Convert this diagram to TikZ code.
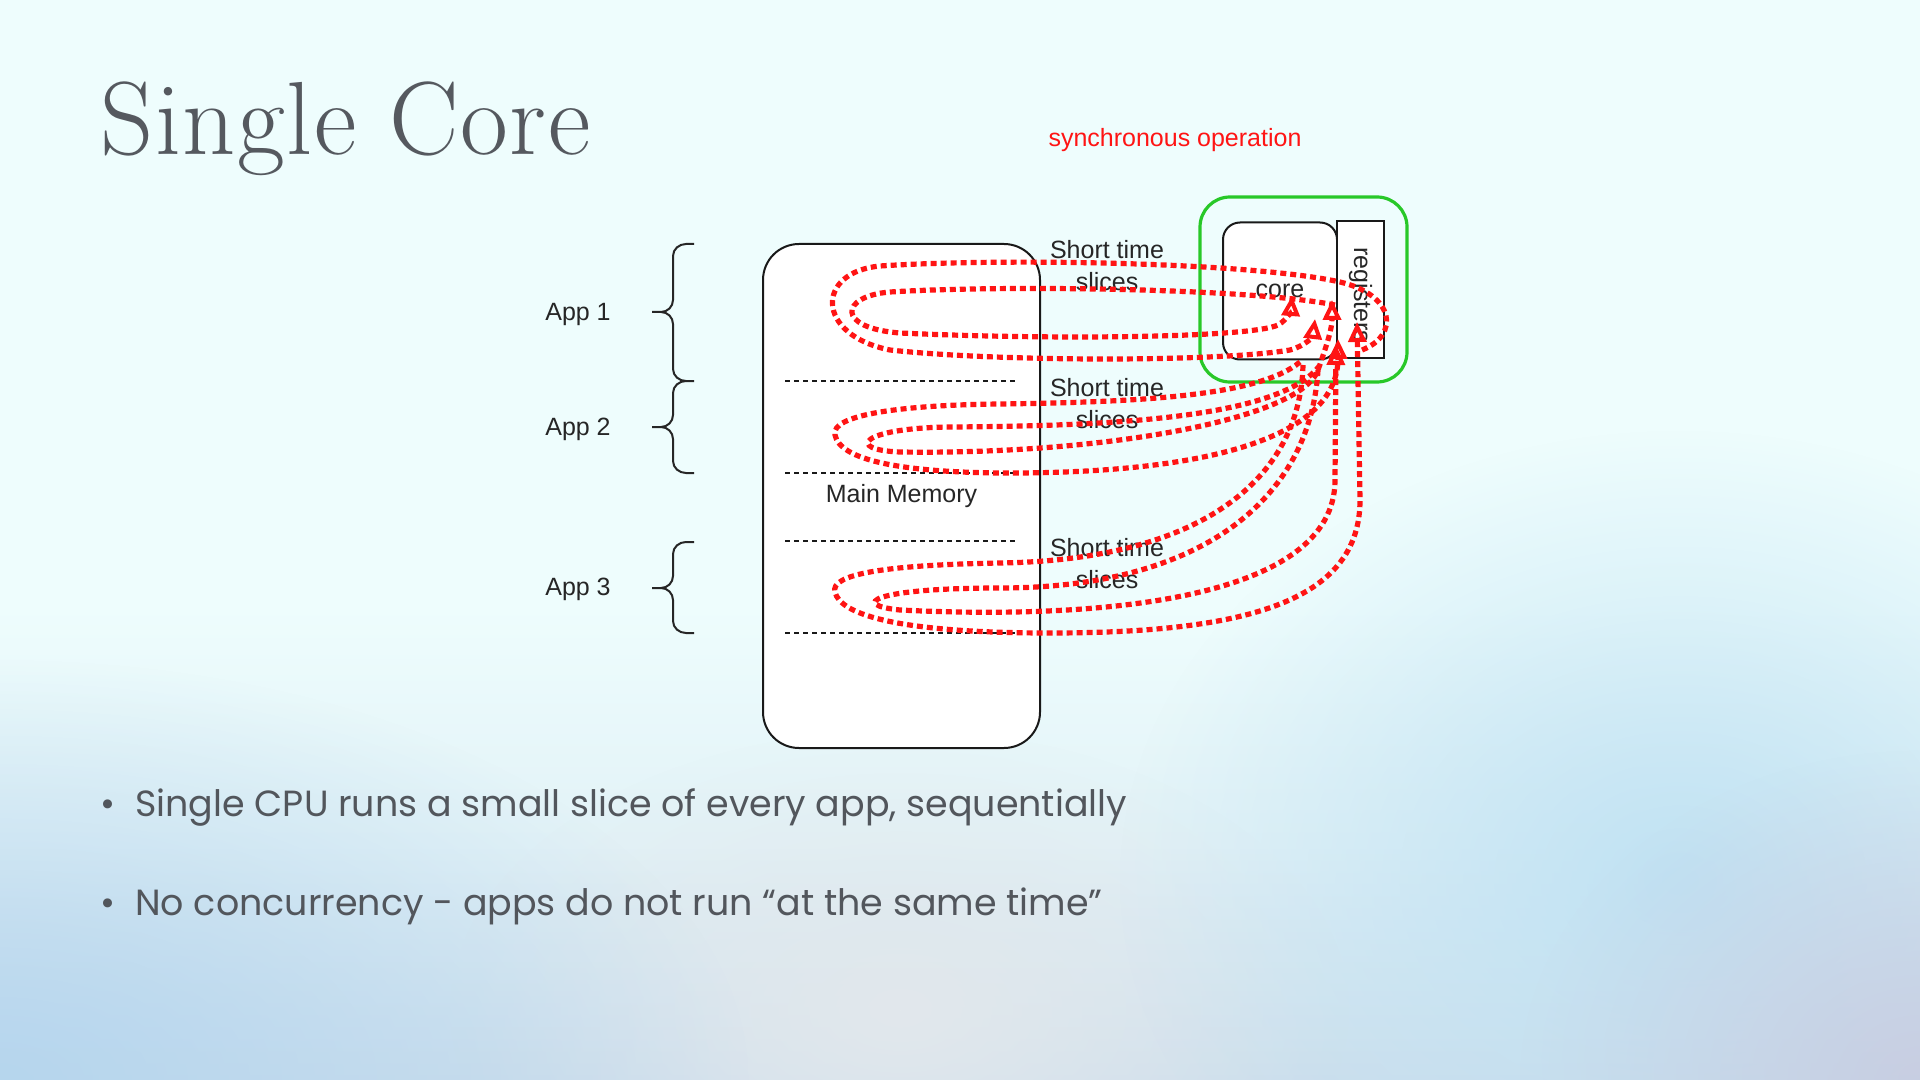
\documentclass[tikz,border=0pt]{standalone}
\usepackage{fontspec}
\usetikzlibrary{arrows.meta,fadings}
\newfontfamily\diagfont{Liberation Sans}
\newfontfamily\bulletfont{Poppins}
\newfontfamily\titlefont{Latin Modern Roman}[LetterSpace=1.5]
\definecolor{bgtop}{RGB}{238,253,253}
\definecolor{bgmid}{RGB}{226,242,247}
\definecolor{bgbot}{RGB}{205,222,236}
\definecolor{blobblue}{RGB}{182,214,238}
\definecolor{blobright}{RGB}{192,226,243}
\definecolor{bloblav}{RGB}{200,206,226}
\definecolor{blobgrey}{RGB}{226,232,236}
\definecolor{titlegrey}{RGB}{85,89,95}
\definecolor{textgrey}{RGB}{82,86,92}
\definecolor{grpgreen}{RGB}{40,200,40}
\definecolor{loopred}{RGB}{255,20,20}
\pgfdeclareverticalshading{bgshade}{100bp}{color(0bp)=(bgbot); color(25bp)=(bgbot); color(36bp)=(bgmid); color(47bp)=(bgtop); color(100bp)=(bgtop)}
\tikzfading[name=softblob, inner color=transparent!0, outer color=transparent!100]
\tikzset{
  box/.style={draw=black!90, line width=1pt, fill=white},
  memline/.style={draw=black!90, line width=0.9pt, dash pattern=on 2.5pt off 2pt},
  bracepath/.style={draw=black!85, line width=1pt},
  loop/.style={draw=loopred, line width=2.6pt, dash pattern=on 3pt off 2pt,
    -{Triangle[open, length=10pt, width=9pt, line width=2pt]}},
  dlabel/.style={font=\diagfont\fontsize{12.5}{16}\selectfont, text=black!85, inner sep=0pt},
  bullettext/.style={font=\bulletfont\fontsize{18.2}{21}\selectfont, text=textgrey, inner sep=0pt, anchor=base west},
}
\begin{document}
\begin{tikzpicture}[x=0.5pt,y=-0.5pt]
\useasboundingbox (0,0) rectangle (1920,1080);
% background
\shade[shading=bgshade] (0,0) rectangle (1920,1080);
\begin{scope}
\clip (0,0) rectangle (1920,1080);
\fill[blobgrey, path fading=softblob] (900,1010) ellipse (450 and 280);
\fill[blobblue, path fading=softblob] (0,1080) ellipse (750 and 420);
\fill[blobright, path fading=softblob] (1680,880) ellipse (560 and 450);
\fill[bloblav, path fading=softblob] (1920,1080) ellipse (400 and 330);
\end{scope}

% title and captions
\node[anchor=base west, inner sep=0pt, text=titlegrey, font=\titlefont\fontsize{52}{58}\selectfont] (title) at (100,155) {Single Core};
\node[dlabel, text=loopred] (sync) at (1175,140) {synchronous operation};

% memory
\node[box, rounded corners=18pt, minimum width=138.5pt, minimum height=252pt, dlabel, text=black!85] (mem) at (901.5,496) {Main Memory};
\draw[memline] (785,381) -- (1015,381);
\draw[memline] (785,473) -- (1015,473);
\draw[memline] (785,541) -- (1015,541);
\draw[memline] (785,633) -- (1015,633);

% braces
\draw[bracepath] (694,244) -- (686,244) to[out=180,in=90] (673,256) -- (673,300) to[out=270,in=0] (661,312) -- (652,312);
\draw[bracepath] (661,312) to[out=0,in=90] (673,324) -- (673,369) to[out=270,in=180] (686,381) -- (694,381);
\draw[bracepath] (686,381) to[out=180,in=90] (673,393) -- (673,415) to[out=270,in=0] (661,427) -- (652,427);
\draw[bracepath] (661,427) to[out=0,in=90] (673,439) -- (673,461) to[out=270,in=180] (686,473) -- (694,473);
\draw[bracepath] (694,542) -- (686,542) to[out=180,in=90] (673,554) -- (673,576) to[out=270,in=0] (661,588) -- (652,588);
\draw[bracepath] (661,588) to[out=0,in=90] (673,600) -- (673,621) to[out=270,in=180] (686,633) -- (694,633);
\node[dlabel, anchor=base] (app1) at (578,321) {App 1};
\node[dlabel, anchor=base] (app2) at (578,435) {App 2};
\node[dlabel, anchor=base] (app3) at (578,595) {App 3};

% core group
\node[draw=grpgreen, line width=1.6pt, rounded corners=15pt, minimum width=103.5pt, minimum height=92.5pt] (grp) at (1303.5,289.5) {};
\node[box, rounded corners=8.5pt, minimum width=57pt, minimum height=68.5pt, dlabel, text=black!85] (core) at (1280,291) {core};
\node[box, minimum width=23.5pt, minimum height=68.5pt] (reg) at (1360.5,289.5) {};
\node[dlabel, rotate=-90] (regtext) at ([yshift=-3pt]reg.center) {registers};

% short time labels
\node[dlabel, align=center] (st1) at (1107,266) {Short time\\slices};
\node[dlabel, align=center] (st2) at (1107,404) {Short time\\slices};
\node[dlabel, align=center] (st3) at (1107,564) {Short time\\slices};

% arrow tips
\coordinate (t1) at (1292,296);
\coordinate (t2) at (1315,319);
\coordinate (t3) at (1332,300);
\coordinate (t4) at (1338,339);
\coordinate (t5) at (1357,322);
\coordinate (s1) at (1362,350);
\coordinate (s2) at (1335,305);
\coordinate (s3) at (1300,362);
\coordinate (s4) at (1320,365);
\coordinate (s5) at (1303,365);
\coordinate (s6) at (1318,370);

% App 1 loops
\draw[loop] (s1) .. controls (1400,335) and (1395,295) .. (1340,282)
  .. controls (1250,262) and (1000,258) .. (880,266)
  .. controls (815,272) and (815,335) .. (890,350)
  .. controls (1000,362) and (1220,362) .. (1290,350)
  .. controls (1305,346) and (1313,336) .. (t2);
\draw[loop] (s2) .. controls (1250,288) and (1000,285) .. (890,292)
  .. controls (840,296) and (835,328) .. (900,333)
  .. controls (1050,340) and (1250,338) .. (1278,325)
  .. controls (1287,320) and (1291,310) .. (t1);
% App 2 loops
\draw[loop] (s3) .. controls (1260,395) and (1150,402) .. (1000,404)
  .. controls (900,405) and (830,415) .. (835,435)
  .. controls (840,460) and (900,472) .. (1000,473)
  .. controls (1200,474) and (1338,440) .. (t4);
\draw[loop] (s4) .. controls (1280,420) and (1100,426) .. (950,427)
  .. controls (860,428) and (845,450) .. (900,452)
  .. controls (1100,455) and (1300,420) .. (1318,370)
  .. controls (1325,350) and (1332,330) .. (t3);
% App 3 loops
\draw[loop] (s5) .. controls (1300,480) and (1200,560) .. (1000,563)
  .. controls (880,565) and (830,575) .. (835,592)
  .. controls (840,615) and (900,633) .. (1050,633)
  .. controls (1250,633) and (1360,600) .. (1360,500)
  -- (t5);
\draw[loop] (s6) .. controls (1310,500) and (1200,588) .. (1000,588)
  .. controls (870,588) and (850,605) .. (900,610)
  .. controls (1100,620) and (1335,600) .. (1335,480)
  -- (1336,345);

% bullets
\node[bullettext] (b1) at (100,816) {\makebox[17.5pt][l]{•}Single CPU runs a small slice of every app, sequentially};
\node[bullettext] (b2) at (100,915) {\makebox[17.5pt][l]{•}No concurrency - apps do not run “at the same time”};
\end{tikzpicture}
\end{document}
